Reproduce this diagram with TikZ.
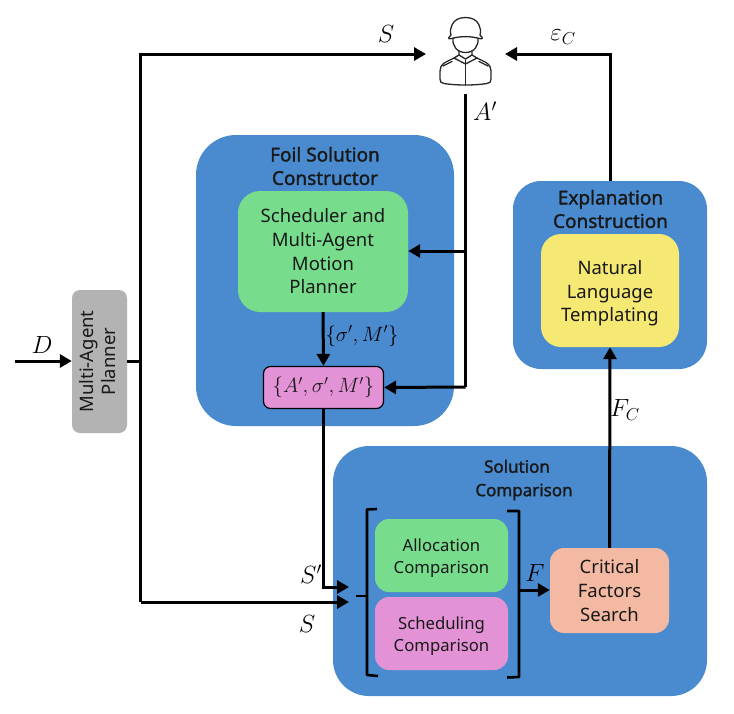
\documentclass[tikz,border=0pt]{standalone}
\usepackage{fontspec}
\usepackage{amsmath}
\setmainfont{Noto Sans}
\newfontfamily\headfont[FakeBold=1.6]{Noto Sans}
\usetikzlibrary{arrows.meta,calc}
\definecolor{bluebox}{HTML}{4A8BD0}
\definecolor{greenbox}{HTML}{77DC8C}
\definecolor{pinkbox}{HTML}{E393D5}
\definecolor{yellowbox}{HTML}{F5E873}
\definecolor{greybox}{HTML}{B3B3B3}
\definecolor{salmonbox}{HTML}{F4B9A2}
\tikzset{
  box/.style={rectangle,inner sep=0pt,align=center,text=black!90,font=\fontsize{18.5}{23.7}\selectfont},
  smallbox/.style={box,rounded corners=14pt,minimum width=133pt,minimum height=73pt,font=\fontsize{16.7}{22}\selectfont},
  group/.style={box,fill=bluebox},
  head/.style={font=\headfont\fontsize{19}{23.5}\selectfont,align=center,text=black!90,inner sep=0pt},
  link/.style={line width=3pt,-{Triangle[length=12pt,width=13pt]}},
  plain/.style={line width=3pt},
  lab/.style={inner sep=0pt,text=black,font=\fontsize{25}{28}\selectfont},
  icon/.style={line width=1.3pt,draw=black!85,line join=round,line cap=round},
  brk/.style={line width=2.6pt,line join=round}
}
\begin{document}
\begin{tikzpicture}[x=1pt,y=-1pt]
\useasboundingbox (0,0) rectangle (734,713);
% groups
\node[group,rounded corners=40pt,minimum width=258pt,minimum height=291pt] (foil) at (325,280.5) {};
\node[group,rounded corners=28pt,minimum width=194pt,minimum height=188pt] (expl) at (610,275) {};
\node[group,rounded corners=36pt,minimum width=374pt,minimum height=250pt] (comp) at (520,571) {};
\node[head] (foilh) at (325,166) {Foil Solution\\Constructor};
\node[head] (explh) at (610.5,209) {Explanation\\Construction};
\node[head,font=\headfont\fontsize{17}{23.5}\selectfont] (comph) at (524,480) {\hspace*{-14pt}Solution\\Comparison};
% inner boxes
\node[box,fill=greenbox,rounded corners=22pt,minimum width=170pt,minimum height=121pt] (sched) at (323,251.5) {Scheduler and\\Multi-Agent\\Motion\\Planner};
\node[box,fill=pinkbox,draw=black,line width=1.2pt,rounded corners=7pt,minimum width=120pt,minimum height=42pt] (set) at (323.5,387.5) {\fontsize{20.5}{22}\selectfont$\{A',\sigma',M'\}$};
\node[box,fill=yellowbox,rounded corners=20pt,minimum width=138pt,minimum height=113pt] (nlt) at (610,290.5) {\rule{0pt}{20pt}Natural\\Language\\Templating};
\node[box,fill=greybox,rounded corners=8pt,minimum width=55pt,minimum height=143pt,font=\fontsize{18.5}{24}\selectfont] (map) at (99.5,361.5) {\rotatebox{90}{\begin{tabular}{c}Multi-Agent\\[-2pt]Planner\end{tabular}}};
\node[smallbox,fill=greenbox] (alloc) at (441.5,555.5) {\rule{0pt}{17pt}Allocation\\Comparison};
\node[smallbox,fill=pinkbox] (schedc) at (441.5,633.5) {\rule{0pt}{17pt}Scheduling\\Comparison};
\node[box,fill=salmonbox,rounded corners=14pt,minimum width=119pt,minimum height=85pt] (crit) at (609.5,590.5) {Critical\\Factors\\Search};
% soldier
\node[inner sep=0pt,minimum width=50pt,minimum height=68pt] (sol) at (465,51) {};
\begin{scope}[icon]
  % helmet
  \draw (451,35) .. controls (450,31) and (450.5,28) .. (452,25) .. controls (454,20) and (459,17.5) .. (465.5,17.5) .. controls (472,17.5) and (477,20) .. (479,25) .. controls (480.5,28) and (481,31) .. (480,35) -- (482.5,38) .. controls (483,39) and (481,39) .. (479,38.5) .. controls (471,36) and (460,36) .. (452,38.5) .. controls (450,39) and (448,39) .. (448.5,38) -- cycle;
  % face
  \draw (453,38) .. controls (452,46) and (457,52.5) .. (465.5,52.5) .. controls (474,52.5) and (479,46) .. (478,38);
  % neck and collar
  \draw (459,51) -- (459,55) -- (465.5,59) -- (472,55) -- (472,51);
  \draw (459,55) -- (454,58) -- (465.5,64) -- (477,58) -- (472,55);
  % body
  \draw (454,58) -- (445,62.5) .. controls (441,65) and (440,68) .. (440,71) -- (440,79) .. controls (440,82) and (441,83) .. (444,83.5) .. controls (456,85.5) and (475,85.5) .. (487,83.5) .. controls (490,83) and (491,82) .. (491,79) -- (491,71) .. controls (491,68) and (490,65) .. (486,62.5) -- (477,58);
  \draw (465.5,60) -- (465.5,85);
  \draw (443,66) -- (452,61.5) (488,66) -- (479,61.5);
\end{scope}
% coordinates
\coordinate (dstart) at (15,361);
\coordinate (busmid) at (140.5,361);
\coordinate (bustop) at (140.5,54);
\coordinate (busbot) at (140.5,602);
\coordinate (sin) at (349,602);
\coordinate (spin) at (349,587);
\coordinate (spc) at (323.5,587);
\coordinate (atop) at (465.5,94);
\coordinate (a1) at (465.5,251);
\coordinate (a2) at (465.5,387);
\coordinate (ec) at (610,54);
\coordinate (solL) at (426,54);
\coordinate (solR) at (505,54);
\coordinate (brkL) at (367,596);
\coordinate (brkT) at (356,596);
\coordinate (brkR) at (519,590);
% connectors
\draw[link] (dstart) -- (map.west |- dstart);
\draw[plain] (map.east |- busmid) -- (busmid);
\draw[link] (busbot) -- (bustop) -- (solL);
\draw[link] (busbot) -- (sin);
\draw[link] (set.south) -- (spc) -- (spin);
\draw[link] (expl.north) -- (ec) -- (solR);
\draw[plain] (atop) -- (a2);
\draw[link] (a1) -- (sched.east |- a1);
\draw[link] (a2) -- (set.east);
\draw[link] (sched.south) -- (set.north);
\draw[link] (brkR) -- (crit.west |- brkR);
\draw[link] (crit.north) -- (nlt.south);
% brackets
\draw[brk] (377,509) -- (367,509.5) -- (367,675) -- (378,676);
\draw[brk] (brkT) -- (brkL);
\draw[brk] (507,511) -- (519,511) -- (519,677) -- (507,677.5);
% labels
\node[lab] (lS) at (386,34) {$S$};
\node[lab] (lE) at (563,37) {$\varepsilon_C$};
\node[lab] (lA) at (485,111) {$A'$};
\node[lab] (lD) at (42,345) {$D$};
\node[lab,font=\fontsize{21}{24}\selectfont] (lsm) at (362,336) {$\{\sigma',M'\}$};
\node[lab] (lFC) at (625,410) {$F_C$};
\node[lab] (lF) at (535,573) {$F$};
\node[lab] (lSp) at (311,574) {$S'$};
\node[lab] (lS2) at (307,624) {$S$};
\end{tikzpicture}
\end{document}
